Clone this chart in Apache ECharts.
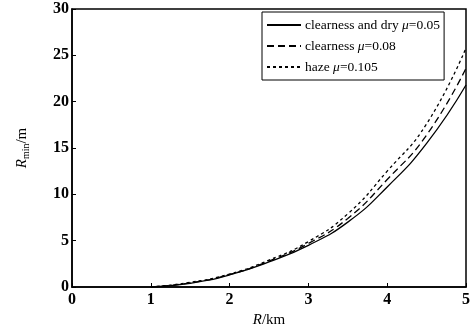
<!DOCTYPE html>
<html><head><meta charset="utf-8">
<script src="https://cdn.jsdelivr.net/npm/echarts@6/dist/echarts.min.js"></script>
<style>html,body{margin:0;padding:0;background:#fff}#c{width:473px;height:334px}</style>
</head><body><div id="c"></div>
<script>
const R = [1, 1.5, 2, 2.5, 3, 3.5, 4, 4.5, 5];
const dryVals = [0, 0.4, 1.3, 2.7, 4.5, 7.0, 10.8, 15.5, 21.8];
const clearVals = [0, 0.45, 1.35, 2.8, 4.7, 7.4, 11.6, 16.4, 23.6];
const hazeVals = [0, 0.5, 1.4, 2.9, 4.9, 7.9, 12.5, 17.6, 25.8];
const names = ['clearness and dry μ=0.05', 'clearness μ=0.08', 'haze μ=0.105'];
const xTicks = [0, 1, 2, 3, 4, 5];
const yTicks = [0, 5, 10, 15, 20, 25, 30];

const font = 'Liberation Serif';
function pair(vals) { return R.map((x, i) => [x, vals[i]]); }
function mk(name, vals, type) {
  return {
    name, type: 'line', data: pair(vals), smooth: true, symbol: 'none',
    lineStyle: { color: '#000', width: 1.3, type: type },
    itemStyle: { color: '#000' }
  };
}
const chart = echarts.init(document.getElementById('c'), null, { renderer: 'canvas' });
chart.setOption({
  animation: false,
  backgroundColor: '#fff',
  grid: { left: 72, right: 5, top: 9, bottom: 47, show: true, borderColor: '#000', borderWidth: 1.5 },
  xAxis: {
    type: 'value', min: 0, max: 5, interval: 1,
    name: '{i|R}/km', nameLocation: 'middle', nameGap: 26,
    nameTextStyle: { fontFamily: font, fontSize: 15, color: '#000', rich: { i: { fontFamily: font, fontStyle: 'italic', fontSize: 15, color: '#000' } } },
    axisLine: { lineStyle: { color: '#000', width: 1.5 } },
    axisTick: { inside: true, length: 4, lineStyle: { color: '#000' } },
    axisLabel: { fontFamily: font, fontSize: 16, fontWeight: 'bold', color: '#000', margin: 5,
      formatter: v => xTicks.includes(v) ? String(v) : '' },
    splitLine: { show: false }
  },
  yAxis: {
    type: 'value', min: 0, max: 30, interval: 5,
    name: '{i|R}{s|min}/m', nameLocation: 'middle', nameGap: 41, nameRotate: 90,
    nameTextStyle: { fontFamily: font, fontSize: 15, color: '#000',
      rich: { i: { fontFamily: font, fontStyle: 'italic', fontSize: 15, color: '#000' },
              s: { fontFamily: font, fontSize: 10, color: '#000', verticalAlign: 'bottom', padding: [8, 0, 0, 0] } } },
    axisLine: { lineStyle: { color: '#000', width: 1.5 } },
    axisTick: { inside: true, length: 4, lineStyle: { color: '#000' } },
    axisLabel: { fontFamily: font, fontSize: 16, fontWeight: 'bold', color: '#000', margin: 3,
      formatter: v => yTicks.includes(v) ? String(v) : '' },
    splitLine: { show: false }
  },
  legend: {
    left: 262, top: 12, orient: 'vertical', itemGap: 7, itemWidth: 34, itemHeight: 14,
    padding: [6, 4, 6, 4],
    borderColor: '#000', borderWidth: 1, backgroundColor: '#fff',
    data: names,
    itemStyle: { opacity: 0 },
    formatter: n => n.replace('μ', '{i|μ}'),
    textStyle: { fontFamily: font, fontSize: 13.5, color: '#000', padding: [0, 0, 0, -1],
      rich: { i: { fontFamily: font, fontStyle: 'italic', fontSize: 13.5, color: '#000' } } }
  },
  series: [mk(names[0], dryVals, 'solid'), mk(names[1], clearVals, [7, 4]), mk(names[2], hazeVals, [3, 3])]
});
</script></body></html>
